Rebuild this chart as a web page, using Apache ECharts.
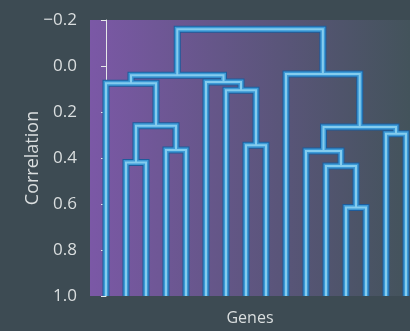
<!DOCTYPE html>
<html>
<head>
<meta charset="utf-8">
<style>
  html, body { margin: 0; padding: 0; background: #3d4b53; }
  #chart { width: 410px; height: 331px; }
</style>
<script src="https://cdn.jsdelivr.net/npm/echarts@6/dist/echarts.min.js"></script>
</head>
<body>
<div id="chart"></div>
<script>
// Leaves (genes), in display order
const leaves = ['G1','G2','G3','G4','G5','G6','G7','G8','G9','G10','G11','G12','G13','G14','G15','G16'];
const leafHeight = 1.0;
// Linkage: node ids 0..15 are leaves, merge k creates node 16+k
const mergeLeft   = [3, 1, 17, 0, 7, 6, 5, 19, 12, 11, 10, 14, 26, 9, 23];
const mergeRight  = [4, 2, 16, 18, 8, 20, 21, 22, 13, 24, 25, 15, 27, 28, 29];
const mergeHeight = [0.365, 0.42, 0.26, 0.075, 0.345, 0.105, 0.07, 0.04, 0.615, 0.435, 0.37, 0.295, 0.265, 0.035, -0.16];
const yTicks = [-0.2, 0.0, 0.2, 0.4, 0.6, 0.8, 1.0];

// Build node positions
const nodeX = leaves.map((_, i) => i);
const nodeH = leaves.map(() => leafHeight);
const links = [];
for (let k = 0; k < mergeLeft.length; k++) {
  const a = mergeLeft[k], b = mergeRight[k], h = mergeHeight[k];
  nodeX.push((nodeX[a] + nodeX[b]) / 2);
  nodeH.push(h);
  links.push([nodeX[a], nodeH[a], nodeX[b], nodeH[b], h]);
}

function layer(color, width) {
  return {
    type: 'custom',
    clip: false,
    silent: true,
    data: links,
    renderItem: function (params, api) {
      const xl = api.value(0), yl = api.value(1), xr = api.value(2), yr = api.value(3), h = api.value(4);
      const p1 = api.coord([xl, yl]);
      const p2 = api.coord([xl, h]);
      const p3 = api.coord([xr, h]);
      const p4 = api.coord([xr, yr]);
      return {
        type: 'polyline',
        shape: { points: [p1, p2, p3, p4] },
        style: { stroke: color, lineWidth: width, fill: null, lineJoin: 'miter', lineCap: 'butt' }
      };
    }
  };
}

const textColor = '#dadedf';
const chart = echarts.init(document.getElementById('chart'), null, { renderer: 'canvas' });
chart.setOption({
  backgroundColor: '#3d4b53',
  animation: false,
  grid: {
    left: 90, right: 0, top: 20, bottom: 35,
    outerBoundsMode: 'none',
    containLabel: false,
    show: true,
    borderWidth: 0,
    backgroundColor: new echarts.graphic.LinearGradient(0, 0, 1, 0, [
      { offset: 0, color: '#7b58a6' },
      { offset: 1, color: '#43535b' }
    ])
  },
  xAxis: {
    type: 'value',
    min: -0.8, max: 15.2,
    name: 'Genes',
    nameLocation: 'middle',
    nameGap: 14,
    nameMoveOverlap: false,
    nameTextStyle: { color: textColor, fontSize: 16, fontFamily: 'Open Sans' },
    axisLine: { show: false },
    axisTick: { show: false },
    axisLabel: { show: false },
    splitLine: { show: false }
  },
  yAxis: {
    type: 'value',
    inverse: true,
    min: yTicks[0], max: yTicks[yTicks.length - 1], interval: 0.2,
    name: 'Correlation',
    nameLocation: 'middle',
    nameGap: 48,
    nameMoveOverlap: false,
    nameTextStyle: { color: textColor, fontSize: 18, fontFamily: 'Open Sans' },
    axisLine: { show: true, lineStyle: { color: '#e6e8e9', width: 1 } },
    axisTick: { show: true, inside: false, length: 5, lineStyle: { color: '#e6e8e9' } },
    axisLabel: {
      color: textColor, fontSize: 17, fontFamily: 'Open Sans', margin: 13,
      formatter: function (v) {
        if (Math.abs(v) < 1e-9) v = 0;
        return (v < 0 ? '\u2212' : '') + Math.abs(v).toFixed(1);
      }
    },
    splitLine: { show: false }
  },
  series: [
    layer('#1d5c9c', 7),
    layer('#3d9ad6', 5),
    layer('#84ccee', 2)
  ]
});
</script>
</body>
</html>
